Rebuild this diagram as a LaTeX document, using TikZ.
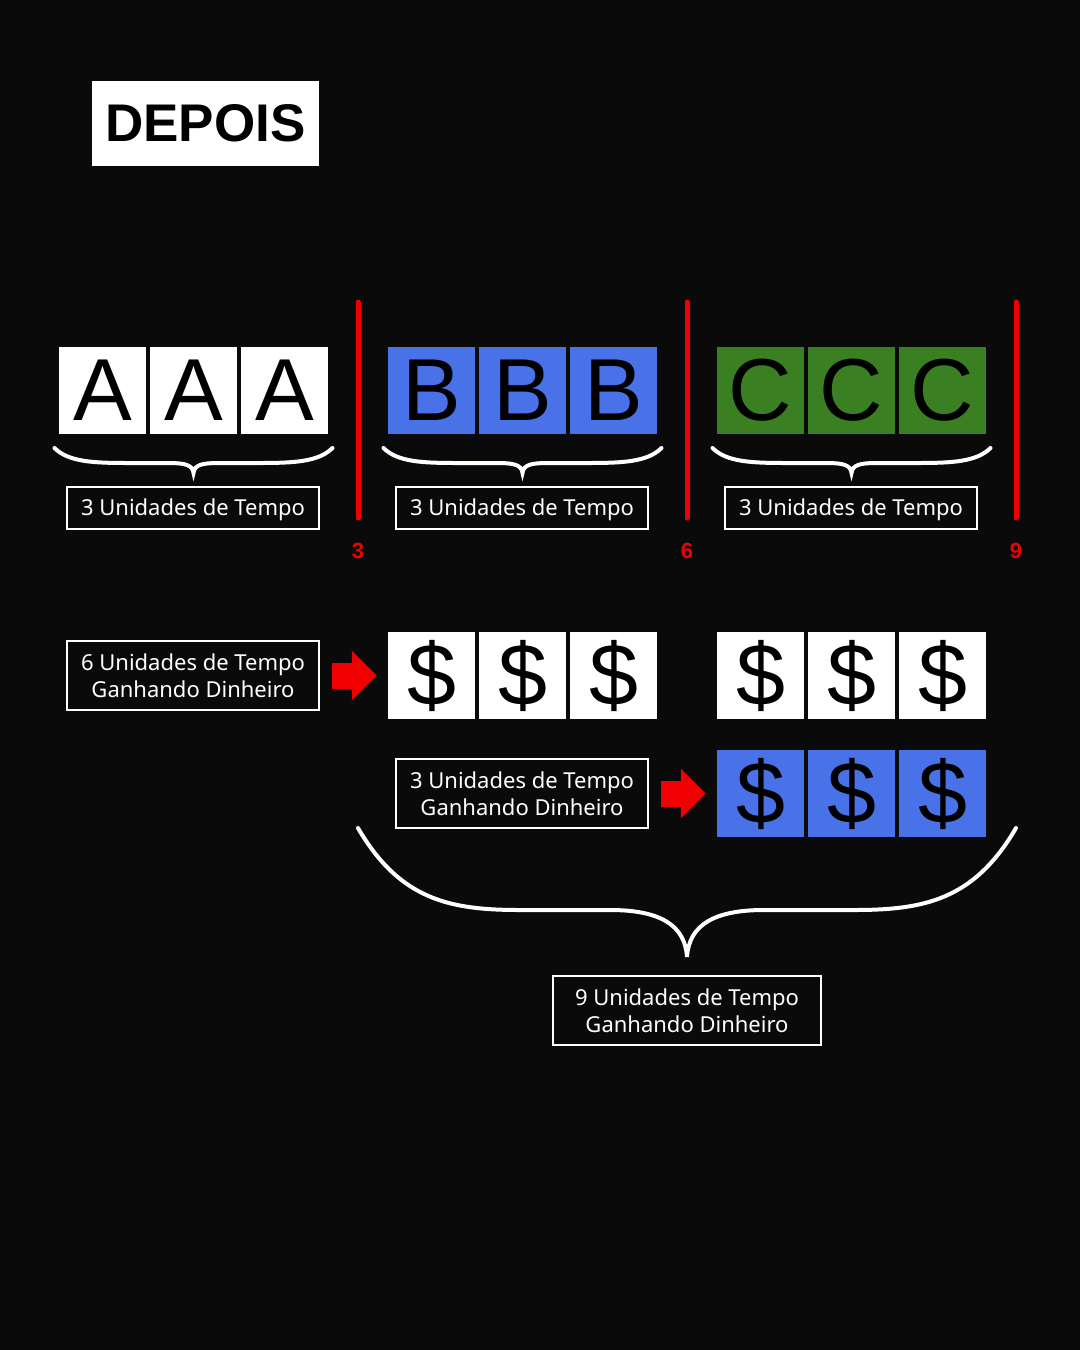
\documentclass[tikz,border=0pt]{standalone}
\usepackage{fontspec}
\setmainfont{Liberation Sans}
\newfontfamily\labelfont{Noto Sans}
\usetikzlibrary{arrows.meta,positioning,calc}

\definecolor{bg}{RGB}{10,10,10}
\definecolor{boxblue}{RGB}{74,114,232}
\definecolor{boxgreen}{RGB}{58,128,34}
\definecolor{markred}{RGB}{240,0,0}

\begin{document}
\begin{tikzpicture}[
  x=1pt,y=-1pt,
  cell/.style={minimum width=87pt,minimum height=87pt,inner sep=0pt,text=black,
               font=\fontsize{88}{88}\selectfont},
  tag/.style={draw=white,line width=1.2pt,text=white,align=center,minimum width=252pt,
              inner sep=0pt,font=\labelfont\fontsize{22}{27}\selectfont},
  onetag/.style={tag,minimum height=42pt,text height=15pt,text depth=0pt},
  brace/.style={draw=white,line width=4pt,line cap=round},
  redbar/.style={draw=markred,line width=5pt,line cap=round},
  redarr/.style={markred,line width=26pt,-{Triangle[length=25pt,width=48pt]}},
  num/.style={text=markred,font=\bfseries\fontsize{22}{22}\selectfont}
]
  \fill[bg] (0,0) rectangle (1080,1350);

  \node[fill=white,minimum width=227pt,minimum height=85pt,inner sep=0pt,
        font=\bfseries\fontsize{53}{53}\selectfont] (title) at (205.5,123.5) {DEPOIS};

  % tasks A, B, C
  \foreach \g/\l/\c/\x in {a/A/white/59, b/B/boxblue/388, c/C/boxgreen/717}
    \foreach \i in {1,2,3}
      \node[cell,fill=\c] (\g\i) at (\x+43.5+91*\i-91,390.5) {\l};

  % braces under each task
  \foreach \xm in {193.5,522.5,851.5}
    \draw[brace] (\xm-139,448) .. controls (\xm-125,462) and (\xm-100,463) .. (\xm-65,463)
      -- (\xm-25,463) .. controls (\xm-8,463) and (\xm-1,465) .. (\xm,473)
      .. controls (\xm+1,465) and (\xm+8,463) .. (\xm+25,463)
      -- (\xm+65,463) .. controls (\xm+100,463) and (\xm+125,462) .. (\xm+139,448);

  \node[onetag] (lblA) at (193,508) {3 Unidades de Tempo};
  \node[onetag] (lblB) at (522,508) {3 Unidades de Tempo};
  \node[onetag] (lblC) at (851,508) {3 Unidades de Tempo};

  % time marks
  \foreach \x/\n in {358/3, 687/6, 1016/9} {
    \node[num] (n\n) at (\x,551) {\n};
    \coordinate (t\n) at (\x,302);
    \draw[redbar] (t\n) -- ([yshift=33pt]n\n.center);
  }

  % money
  \foreach \i in {1,2,3} {
    \node[cell,fill=white]   (d\i) at (388+43.5+91*\i-91,675.5) {\$};
    \node[cell,fill=white]   (e\i) at (717+43.5+91*\i-91,675.5) {\$};
    \node[cell,fill=boxblue] (f\i) at (717+43.5+91*\i-91,793.5) {\$};
  }

  \node[tag,minimum height=69pt] (lbl6) at (193,675.5) {6 Unidades de Tempo\\Ganhando Dinheiro};
  \node[tag,minimum height=69pt] (lbl3) at (522,793.5) {3 Unidades de Tempo\\Ganhando Dinheiro};

  \draw[redarr,shorten <=12pt,shorten >=11pt] (lbl6.east) -- (d1.west);
  \draw[redarr,shorten <=12pt,shorten >=11pt] (lbl3.east) -- (f1.west);

  % total
  \draw[brace] (358,828) .. controls (400,900) and (450,910) .. (520,910)
    -- (610,910) .. controls (660,910) and (685,925) .. (687,957)
    .. controls (689,925) and (714,910) .. (764,910)
    -- (854,910) .. controls (924,910) and (974,900) .. (1016,828);

  \node[tag,minimum width=268pt,minimum height=69pt] (lbl9) at (687,1010.5) {9 Unidades de Tempo\\Ganhando Dinheiro};
\end{tikzpicture}
\end{document}
